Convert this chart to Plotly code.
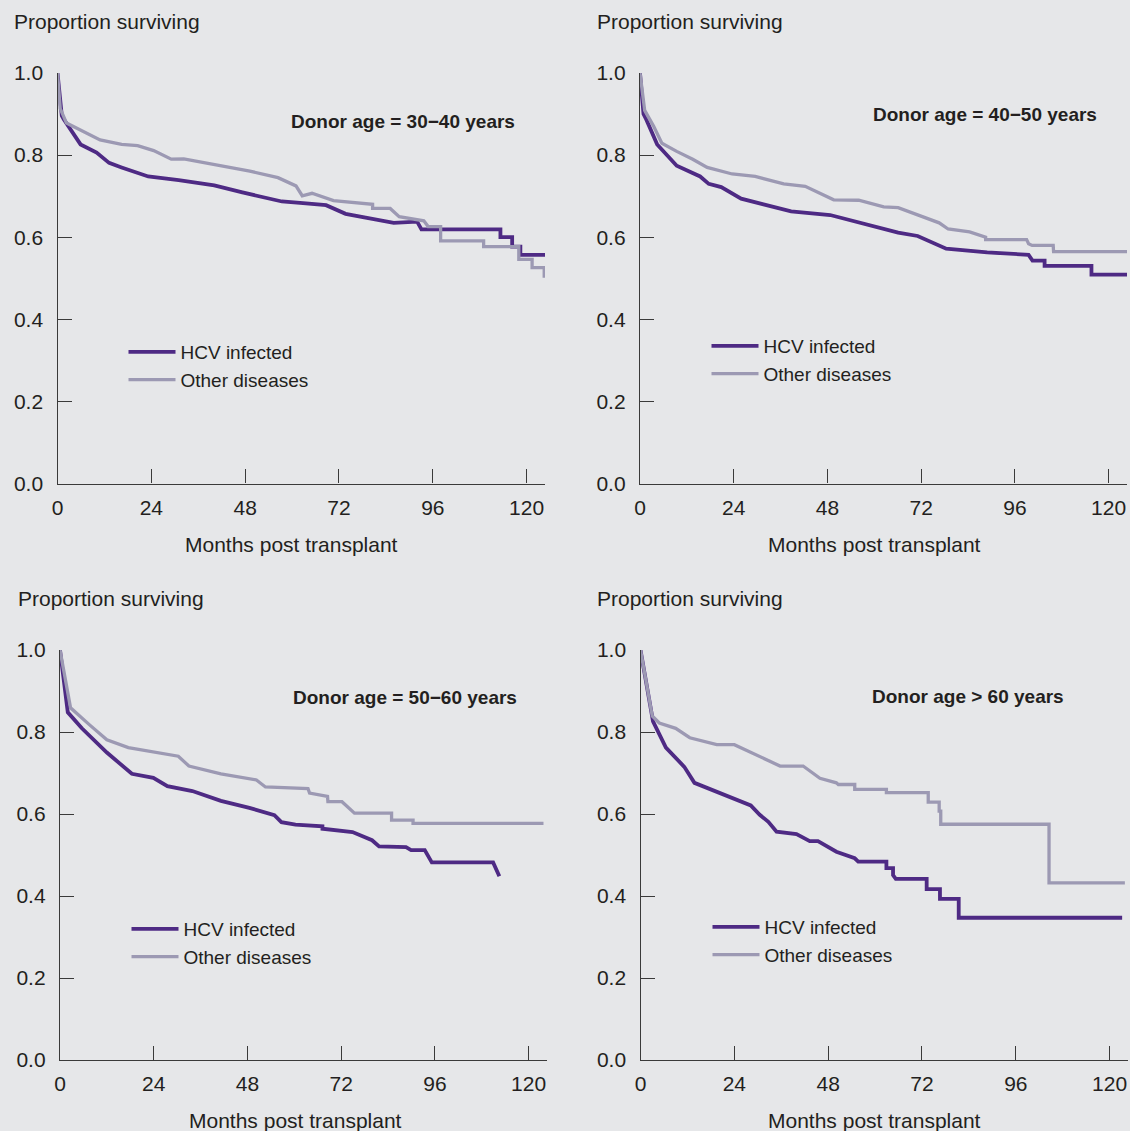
import plotly.graph_objects as go

W, H = 1130, 1131

# ---------------- data (months, proportion surviving) ----------------
p1_hcv_x = [0, 1.1, 1.6, 5.9, 10.0, 13.2, 16.4, 23.2, 31.0, 40.1, 47.3, 57.4, 62.8, 68.7, 73.7, 86.0, 92.0, 93.1, 113.3, 113.3, 116.3, 116.3, 118.4, 118.4, 124.8]
p1_hcv_y = [1.0, 0.896, 0.887, 0.826, 0.806, 0.781, 0.770, 0.748, 0.739, 0.726, 0.709, 0.687, 0.683, 0.678, 0.657, 0.635, 0.638, 0.619, 0.619, 0.600, 0.600, 0.577, 0.577, 0.557, 0.557]
p1_oth_x = [0, 0.7, 2.3, 7.3, 10.9, 16.4, 20.5, 24.6, 29.1, 32.3, 40.1, 49.2, 56.4, 61.0, 62.6, 65.1, 70.6, 80.6, 80.6, 85.1, 87.4, 93.7, 94.8, 98.0, 98.0, 109.0, 109.0, 118.0, 118.0, 121.4, 121.4, 124.5, 124.5]
p1_oth_y = [1.0, 0.913, 0.878, 0.854, 0.837, 0.826, 0.823, 0.811, 0.790, 0.791, 0.778, 0.761, 0.745, 0.725, 0.701, 0.707, 0.689, 0.680, 0.670, 0.670, 0.650, 0.640, 0.626, 0.626, 0.591, 0.591, 0.577, 0.577, 0.546, 0.546, 0.526, 0.526, 0.501]

p2_hcv_x = [0, 0.9, 1.6, 4.4, 9.4, 15.4, 17.6, 20.8, 25.9, 31.4, 38.7, 48.7, 56.9, 66.1, 71.1, 78.4, 88.9, 99.5, 100.5, 103.6, 103.6, 115.6, 115.6, 124.8]
p2_hcv_y = [1.0, 0.900, 0.887, 0.826, 0.774, 0.748, 0.730, 0.722, 0.694, 0.680, 0.663, 0.654, 0.633, 0.611, 0.603, 0.572, 0.563, 0.557, 0.543, 0.543, 0.530, 0.530, 0.509, 0.509]
p2_oth_x = [0, 1.2, 3.5, 5.6, 9.4, 13.5, 17.2, 23.6, 29.5, 36.8, 42.3, 49.6, 56.0, 62.4, 66.1, 76.6, 78.9, 84.4, 88.5, 88.5, 99.0, 99.5, 100.4, 105.8, 105.9, 124.8]
p2_oth_y = [1.0, 0.909, 0.870, 0.829, 0.809, 0.790, 0.770, 0.754, 0.748, 0.730, 0.724, 0.691, 0.690, 0.674, 0.672, 0.635, 0.620, 0.613, 0.600, 0.594, 0.594, 0.584, 0.580, 0.580, 0.565, 0.565]

p3_hcv_x = [0, 2.0, 5.6, 9.3, 12.0, 18.4, 23.9, 27.5, 33.9, 41.2, 48.5, 54.9, 56.7, 60.3, 67.2, 67.2, 74.9, 79.9, 81.7, 88.6, 89.9, 93.4, 95.2, 110.9, 112.5]
p3_hcv_y = [1.0, 0.848, 0.809, 0.773, 0.750, 0.698, 0.688, 0.668, 0.656, 0.632, 0.615, 0.597, 0.580, 0.574, 0.570, 0.564, 0.556, 0.536, 0.521, 0.519, 0.512, 0.512, 0.482, 0.482, 0.448]
p3_oth_x = [0, 2.7, 7.5, 12.0, 17.5, 23.9, 30.3, 33.0, 41.2, 50.3, 52.6, 63.5, 63.9, 68.5, 68.6, 72.2, 75.4, 84.9, 84.9, 90.4, 90.4, 123.8]
p3_oth_y = [1.0, 0.859, 0.818, 0.781, 0.762, 0.751, 0.741, 0.717, 0.698, 0.683, 0.666, 0.662, 0.651, 0.643, 0.630, 0.630, 0.602, 0.602, 0.585, 0.585, 0.577, 0.577]

p4_hcv_x = [0, 3.2, 6.5, 11.2, 13.8, 20.4, 28.2, 30.5, 32.7, 34.8, 39.9, 43.3, 45.4, 50.1, 54.8, 55.7, 62.9, 62.9, 64.6, 64.6, 65.3, 73.2, 73.2, 76.6, 76.6, 81.4, 81.4, 123.2]
p4_hcv_y = [1.0, 0.826, 0.762, 0.715, 0.676, 0.651, 0.621, 0.598, 0.581, 0.557, 0.551, 0.534, 0.534, 0.508, 0.492, 0.484, 0.484, 0.468, 0.468, 0.451, 0.442, 0.442, 0.417, 0.417, 0.393, 0.393, 0.347, 0.347]
p4_oth_x = [0, 3.0, 4.8, 9.0, 12.6, 19.5, 24.0, 29.5, 35.7, 41.6, 45.9, 50.1, 50.6, 54.8, 54.8, 62.9, 62.9, 73.6, 73.6, 76.4, 76.4, 76.8, 76.8, 104.5, 104.5, 123.9]
p4_oth_y = [1.0, 0.839, 0.822, 0.809, 0.786, 0.769, 0.769, 0.745, 0.717, 0.717, 0.687, 0.676, 0.672, 0.672, 0.660, 0.660, 0.652, 0.652, 0.629, 0.629, 0.607, 0.607, 0.575, 0.575, 0.432, 0.432]

panel_titles = ["Donor age = 30\u221240 years", "Donor age = 40\u221250 years",
                "Donor age = 50\u221260 years", "Donor age > 60 years"]
series_names = ["HCV infected", "Other diseases"]
x_ticks = [0, 24, 48, 72, 96, 120]
y_ticks = [0.0, 0.2, 0.4, 0.6, 0.8, 1.0]
x_title = "Months post transplant"
y_title = "Proportion surviving"

panels = [
    (p1_hcv_x, p1_hcv_y, p1_oth_x, p1_oth_y),
    (p2_hcv_x, p2_hcv_y, p2_oth_x, p2_oth_y),
    (p3_hcv_x, p3_hcv_y, p3_oth_x, p3_oth_y),
    (p4_hcv_x, p4_hcv_y, p4_oth_x, p4_oth_y),
]

# ---------------- styling / layout ----------------
BG = "#E6E7E9"
HCV_COLOR = "#4E2A84"
OTH_COLOR = "#9C99B3"
AXIS_COLOR = "#3a3a3a"
TEXT_COLOR = "#231F20"
FONT = "Liberation Sans, Arial, Helvetica, sans-serif"
FS = 21       # axis titles and tick labels
FS_LEG = 19   # legend text
FS_TTL = 19   # bold panel title

def px_x(p):
    return p / W

def px_y(p):
    return 1 - p / H

# pixel geometry of each panel: (left, right, top(y=1.0), bottom(y=0))
geom = [
    (57.5, 545, 73, 483.5),
    (640, 1127, 73, 483.5),
    (60, 547, 650, 1060),
    (640.5, 1128, 650, 1060),
]
# text placements (pixels)
ylab_pos = [(12, 21), (595, 21), (16, 598), (595, 598)]
xlab_pos = [(291.5, 544), (874.5, 544), (295, 1120), (874.5, 1120)]
ttl_pos = [(402.5, 121), (984.5, 114), (404.5, 697), (968, 696)]
# legend: (left x of line sample, top)
leg_pos = [(127, 333), (710, 327), (130, 910), (711, 908)]

fig = go.Figure()
layout = dict(
    width=W, height=H,
    margin=dict(l=0, r=0, t=0, b=0, autoexpand=False),
    paper_bgcolor=BG, plot_bgcolor=BG,
    font=dict(family=FONT, size=FS, color=TEXT_COLOR),
    showlegend=True,
    annotations=[],
)

XMAX = 124.7
for i, (hx, hy, ox, oy) in enumerate(panels):
    n = i + 1
    xa = "x" if n == 1 else f"x{n}"
    ya = "y" if n == 1 else f"y{n}"
    leg = "legend" if n == 1 else f"legend{n}"
    fig.add_trace(go.Scatter(x=hx, y=hy, mode="lines", name=series_names[0],
                             line=dict(color=HCV_COLOR, width=3.8),
                             xaxis=xa, yaxis=ya, legend=leg))
    fig.add_trace(go.Scatter(x=ox, y=oy, mode="lines", name=series_names[1],
                             line=dict(color=OTH_COLOR, width=3.3),
                             xaxis=xa, yaxis=ya, legend=leg))
    l, r, t, b = geom[i]
    xkey = "xaxis" if n == 1 else f"xaxis{n}"
    ykey = "yaxis" if n == 1 else f"yaxis{n}"
    layout[xkey] = dict(
        domain=[px_x(l), px_x(r)], anchor=ya, range=[0, XMAX],
        showgrid=False, zeroline=False, showline=True, linecolor=AXIS_COLOR,
        linewidth=1.4, ticks="inside", ticklen=14, tickwidth=1.4,
        tickcolor=AXIS_COLOR, tickvals=x_ticks, ticklabelstandoff=5,
        tickfont=dict(family=FONT, size=FS, color=TEXT_COLOR), fixedrange=True,
    )
    layout[ykey] = dict(
        domain=[px_y(b), px_y(t)], anchor=xa, range=[0, 1.0],
        showgrid=False, zeroline=False, showline=True, linecolor=AXIS_COLOR,
        linewidth=1.4, ticks="inside", ticklen=14, tickwidth=1.4,
        tickcolor=AXIS_COLOR, tickvals=y_ticks, tickformat=".1f",
        ticklabelstandoff=9,
        tickfont=dict(family=FONT, size=FS, color=TEXT_COLOR), fixedrange=True,
    )
    lx, ly = leg_pos[i]
    layout[leg] = dict(
        x=px_x(lx - 3.5), y=px_y(ly), xanchor="left", yanchor="top",
        bgcolor="rgba(0,0,0,0)", borderwidth=0, itemwidth=47,
        font=dict(family=FONT, size=FS_LEG, color=TEXT_COLOR),
        traceorder="normal", tracegroupgap=0,
    )
    layout["annotations"] += [
        dict(text=y_title, xref="paper", yref="paper", x=px_x(ylab_pos[i][0]),
             y=px_y(ylab_pos[i][1]), xanchor="left", yanchor="middle",
             showarrow=False, font=dict(family=FONT, size=FS, color=TEXT_COLOR)),
        dict(text=x_title, xref="paper", yref="paper", x=px_x(xlab_pos[i][0]),
             y=px_y(xlab_pos[i][1]), xanchor="center", yanchor="middle",
             showarrow=False, font=dict(family=FONT, size=FS, color=TEXT_COLOR)),
        dict(text="<b>" + panel_titles[i] + "</b>", xref="paper", yref="paper",
             x=px_x(ttl_pos[i][0]), y=px_y(ttl_pos[i][1]), xanchor="center",
             yanchor="middle", showarrow=False,
             font=dict(family=FONT, size=FS_TTL, color=TEXT_COLOR)),
    ]

fig.update_layout(**layout)
fig.write_html(
    "out.html",
    config={"displayModeBar": False},
    post_script="document.body.style.margin='0';document.body.style.overflow='hidden';"
                "document.body.style.background='" + BG + "';",
)
